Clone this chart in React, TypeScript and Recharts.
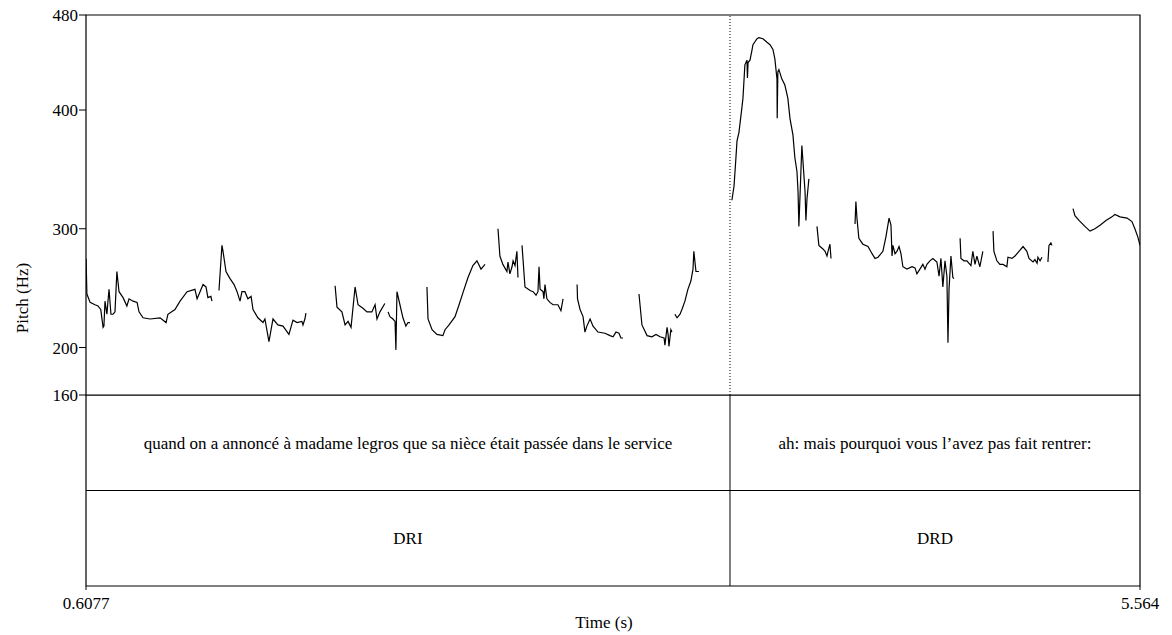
import React from "react";
import {
  Line,
  LineChart,
  ReferenceArea,
  ReferenceLine,
  XAxis,
  YAxis,
} from "recharts";

const FONT = '"Liberation Serif", "Times New Roman", serif';

// time range of the excerpt (s) and pitch range (Hz)
const timeDomain: [number, number] = [0.6077, 5.564];
const pitchDomain: [number, number] = [160, 480];
const pitchTicks = [160, 200, 300, 400, 480];
const timeTicks = [0.6077, 5.564];

// interval boundaries in the TextGrid
const boundary = 3.636;
const wordLabels = [
  "quand on a annoncé à madame legros que sa nièce était passée dans le service",
  "ah: mais pourquoi vous l’avez pas fait rentrer:",
];
const typeLabels = ["DRI", "DRD"];

// voiced stretches of the pitch track, [time s, F0 Hz]
const segA: [number, number][] = [
  [0.608, 275], [0.612, 245], [0.627, 238], [0.65, 236], [0.664, 235], [0.677, 232],
  [0.688, 217], [0.692, 218], [0.697, 239], [0.706, 228], [0.711, 239], [0.716, 249],
  [0.725, 228], [0.735, 228], [0.744, 230], [0.753, 264], [0.763, 247], [0.782, 242],
  [0.8, 235], [0.81, 241], [0.829, 239], [0.848, 238], [0.857, 230], [0.876, 225],
  [0.909, 224], [0.956, 225], [0.984, 221], [0.993, 228], [1.026, 232], [1.05, 239],
  [1.083, 247], [1.12, 249], [1.13, 241], [1.144, 247], [1.158, 253], [1.172, 251],
  [1.181, 242], [1.195, 243], [1.2, 239],
];
const segB: [number, number][] = [
  [1.233, 248], [1.247, 286], [1.252, 281], [1.266, 264], [1.285, 258], [1.304, 253],
  [1.318, 247], [1.332, 239], [1.341, 247], [1.355, 247], [1.369, 241], [1.384, 243],
  [1.393, 232], [1.416, 225], [1.44, 221], [1.449, 224], [1.468, 205], [1.487, 224],
  [1.51, 219], [1.534, 218], [1.562, 211], [1.581, 223], [1.6, 221], [1.623, 222],
  [1.628, 219], [1.637, 224], [1.642, 229],
];
const segC: [number, number][] = [
  [1.779, 252], [1.788, 234], [1.811, 230], [1.826, 219], [1.84, 222], [1.854, 217],
  [1.873, 251], [1.887, 236], [1.91, 233], [1.929, 230], [1.952, 230], [1.967, 236],
  [1.976, 224], [1.99, 230], [2.013, 237],
];
const segD: [number, number][] = [
  [2.028, 230], [2.037, 226], [2.051, 224], [2.061, 222], [2.065, 198], [2.07, 247],
  [2.084, 236], [2.098, 225], [2.112, 218], [2.122, 221], [2.131, 221],
];
const segE: [number, number][] = [
  [2.211, 251], [2.216, 224], [2.235, 215], [2.258, 211], [2.286, 210], [2.296, 215],
  [2.315, 219], [2.343, 226], [2.362, 236], [2.38, 246], [2.404, 259], [2.427, 269],
  [2.446, 273], [2.465, 266], [2.484, 270],
];
const segF: [number, number][] = [
  [2.545, 300], [2.554, 277], [2.568, 270], [2.587, 264], [2.592, 272], [2.601, 262],
  [2.611, 268], [2.616, 273], [2.625, 269], [2.634, 281], [2.639, 259],
];
const segG: [number, number][] = [
  [2.658, 286], [2.672, 251], [2.696, 248], [2.71, 247], [2.724, 244], [2.733, 247],
  [2.738, 268], [2.743, 249], [2.757, 247], [2.761, 241], [2.766, 253], [2.775, 241],
  [2.789, 238], [2.804, 236], [2.827, 236], [2.841, 231], [2.851, 241],
];
const segH: [number, number][] = [
  [2.917, 253], [2.919, 241], [2.931, 232], [2.945, 226], [2.954, 213], [2.963, 218],
  [2.978, 224], [2.992, 218], [3.015, 213], [3.048, 212], [3.072, 210], [3.086, 209],
  [3.1, 213], [3.114, 212], [3.123, 208], [3.133, 208],
];
const segI: [number, number][] = [
  [3.208, 245], [3.222, 219], [3.246, 210], [3.269, 209], [3.288, 211], [3.307, 209],
  [3.326, 208], [3.33, 202], [3.34, 217], [3.345, 211], [3.349, 201], [3.358, 215],
  [3.363, 213],
];
const segJ: [number, number][] = [
  [3.377, 228], [3.387, 225], [3.401, 228], [3.41, 232], [3.424, 239], [3.438, 249],
  [3.452, 256], [3.462, 266], [3.466, 281], [3.476, 264], [3.49, 264],
];
const segK: [number, number][] = [
  [3.645, 324], [3.655, 336], [3.664, 360], [3.669, 374], [3.678, 381], [3.692, 402],
  [3.697, 410], [3.706, 438], [3.716, 442], [3.718, 427], [3.721, 440], [3.73, 442],
  [3.739, 450], [3.744, 455], [3.763, 460], [3.772, 461], [3.791, 460], [3.81, 457],
  [3.824, 455], [3.838, 451], [3.847, 443], [3.857, 426], [3.858, 393], [3.861, 432],
  [3.866, 434], [3.88, 426], [3.894, 421], [3.908, 410], [3.918, 393], [3.932, 379],
  [3.941, 360], [3.951, 348], [3.956, 331], [3.96, 302], [3.97, 351], [3.974, 370],
  [3.979, 357], [3.989, 331], [3.993, 307], [3.998, 325], [4.007, 342],
];
const segL: [number, number][] = [
  [4.045, 302], [4.054, 286], [4.073, 283], [4.083, 281], [4.092, 277], [4.097, 281],
  [4.106, 287], [4.111, 275],
];
const segM: [number, number][] = [
  [4.224, 304], [4.228, 323], [4.233, 309], [4.242, 292], [4.261, 287], [4.285, 285],
  [4.304, 279], [4.318, 275], [4.332, 276], [4.355, 281], [4.369, 293], [4.384, 309],
  [4.393, 303], [4.398, 277], [4.402, 286], [4.412, 279], [4.421, 281], [4.431, 285],
  [4.44, 279], [4.449, 268], [4.468, 266], [4.492, 268], [4.506, 267], [4.515, 262],
  [4.529, 266], [4.543, 270], [4.553, 266], [4.562, 270], [4.576, 273], [4.59, 275],
  [4.609, 272], [4.619, 260], [4.628, 275], [4.637, 251], [4.647, 273], [4.656, 260],
  [4.661, 204], [4.666, 249], [4.675, 277], [4.684, 259], [4.689, 258],
];
const segN: [number, number][] = [
  [4.718, 292], [4.722, 275], [4.736, 273], [4.75, 273], [4.769, 269], [4.778, 281],
  [4.788, 270], [4.797, 277], [4.811, 268], [4.825, 281],
];
const segO: [number, number][] = [
  [4.873, 298], [4.877, 281], [4.891, 273], [4.905, 270], [4.92, 270], [4.938, 268],
  [4.943, 276], [4.962, 275], [4.976, 277], [4.995, 281], [5.014, 285], [5.032, 281],
  [5.042, 275], [5.061, 272], [5.07, 274], [5.08, 271], [5.084, 276], [5.094, 273],
  [5.103, 276],
];
const segP: [number, number][] = [
  [5.131, 272], [5.136, 286], [5.145, 288], [5.15, 286],
];
const segQ: [number, number][] = [
  [5.249, 317], [5.258, 311], [5.277, 307], [5.305, 302], [5.329, 298], [5.352, 300],
  [5.376, 303], [5.404, 307], [5.432, 310], [5.446, 312], [5.47, 310], [5.503, 309],
  [5.526, 306], [5.54, 300], [5.554, 293], [5.564, 286],
];

const segments = [segA, segB, segC, segD, segE, segF, segG, segH, segI, segJ, segK, segL, segM, segN, segO, segP, segQ];

// a null row after each stretch breaks the line (unvoiced gap)
const pitchData = segments.flatMap((seg) => [
  ...seg.map(([t, hz]) => ({ t, hz: hz as number | null })),
  { t: seg[seg.length - 1][0] + 0.0005, hz: null },
]);

// two tiers stacked: row 1 = words, row 0 = discourse type
const tierData = [timeDomain[0], boundary, timeDomain[1]].map((t, i) => ({ t, row: i === 0 ? 0 : i === 2 ? 2 : 1 }));

const tickStyle = { fontSize: 17, fill: "#000", fontFamily: FONT };

function PitchLabel() {
  return (
    <text
      x={22}
      y={298}
      transform="rotate(-90 22 298)"
      textAnchor="middle"
      dominantBaseline="central"
      fontSize={17}
      fontFamily={FONT}
      fill="#000"
    >
      Pitch (Hz)
    </text>
  );
}

export default function App() {
  return (
    <div
      style={{
        position: "absolute",
        left: 0,
        top: 0,
        width: 1172,
        height: 635,
        background: "#fff",
        fontFamily: FONT,
      }}
    >
      <div style={{ position: "absolute", left: 0, top: 395 }}>
        <LineChart
          width={1172}
          height={240}
          data={tierData}
          margin={{ top: 0, right: 32, bottom: 0, left: 86 }}
        >
          <XAxis
            dataKey="t"
            type="number"
            domain={timeDomain}
            allowDataOverflow
            ticks={timeTicks}
            interval={0}
            height={49}
            axisLine={false}
            tickLine={{ stroke: "#000" }}
            tickSize={4}
            tickMargin={7}
            tick={tickStyle}
            tickFormatter={(v: number) => String(v)}
            label={{
              value: "Time (s)",
              position: "insideBottom",
              offset: 7,
              dx: -9,
              style: { fontSize: 17, fill: "#000", fontFamily: FONT },
            }}
          />
          <YAxis type="number" domain={[0, 2]} allowDataOverflow hide />
          <Line dataKey="row" stroke="none" dot={false} activeDot={false} isAnimationActive={false} />
          <ReferenceArea
            x1={timeDomain[0]}
            x2={timeDomain[1]}
            y1={0}
            y2={2}
            fill="none"
            stroke="#000"
            strokeWidth={1.2}
            ifOverflow="visible"
          />
          <ReferenceLine y={1} stroke="#000" ifOverflow="visible" />
          <ReferenceLine x={boundary} stroke="#000" ifOverflow="visible" />
          <ReferenceArea
            x1={timeDomain[0]}
            x2={boundary}
            y1={1}
            y2={2}
            fill="none"
            ifOverflow="visible"
            label={{ value: wordLabels[0], position: "center", style: tickStyle }}
          />
          <ReferenceArea
            x1={boundary}
            x2={timeDomain[1]}
            y1={1}
            y2={2}
            fill="none"
            ifOverflow="visible"
            label={{ value: wordLabels[1], position: "center", style: tickStyle }}
          />
          <ReferenceArea
            x1={timeDomain[0]}
            x2={boundary}
            y1={0}
            y2={1}
            fill="none"
            ifOverflow="visible"
            label={{ value: typeLabels[0], position: "center", style: tickStyle }}
          />
          <ReferenceArea
            x1={boundary}
            x2={timeDomain[1]}
            y1={0}
            y2={1}
            fill="none"
            ifOverflow="visible"
            label={{ value: typeLabels[1], position: "center", style: tickStyle }}
          />
        </LineChart>
      </div>
      <div style={{ position: "absolute", left: 0, top: 0 }}>
        <LineChart
          width={1172}
          height={410}
          data={pitchData}
          margin={{ top: 15, right: 32, bottom: 15, left: 0 }}
        >
          <XAxis
            dataKey="t"
            type="number"
            domain={timeDomain}
            allowDataOverflow
            hide
          />
          <YAxis
            type="number"
            domain={pitchDomain}
            ticks={pitchTicks}
            interval={0}
            width={86}
            axisLine={false}
            tickLine={{ stroke: "#000" }}
            tickSize={7}
            tickMargin={1}
            tick={tickStyle}
            label={<PitchLabel />}
          />
          <ReferenceArea
            x1={timeDomain[0]}
            x2={timeDomain[1]}
            y1={pitchDomain[0]}
            y2={pitchDomain[1]}
            fill="none"
            stroke="#000"
            strokeWidth={1.2}
          />
          <ReferenceLine x={boundary} stroke="#000" strokeDasharray="1 2" />
          <Line
            type="linear"
            dataKey="hz"
            stroke="#000"
            strokeWidth={1.2}
            dot={false}
            connectNulls={false}
            isAnimationActive={false}
          />
        </LineChart>
      </div>
    </div>
  );
}
